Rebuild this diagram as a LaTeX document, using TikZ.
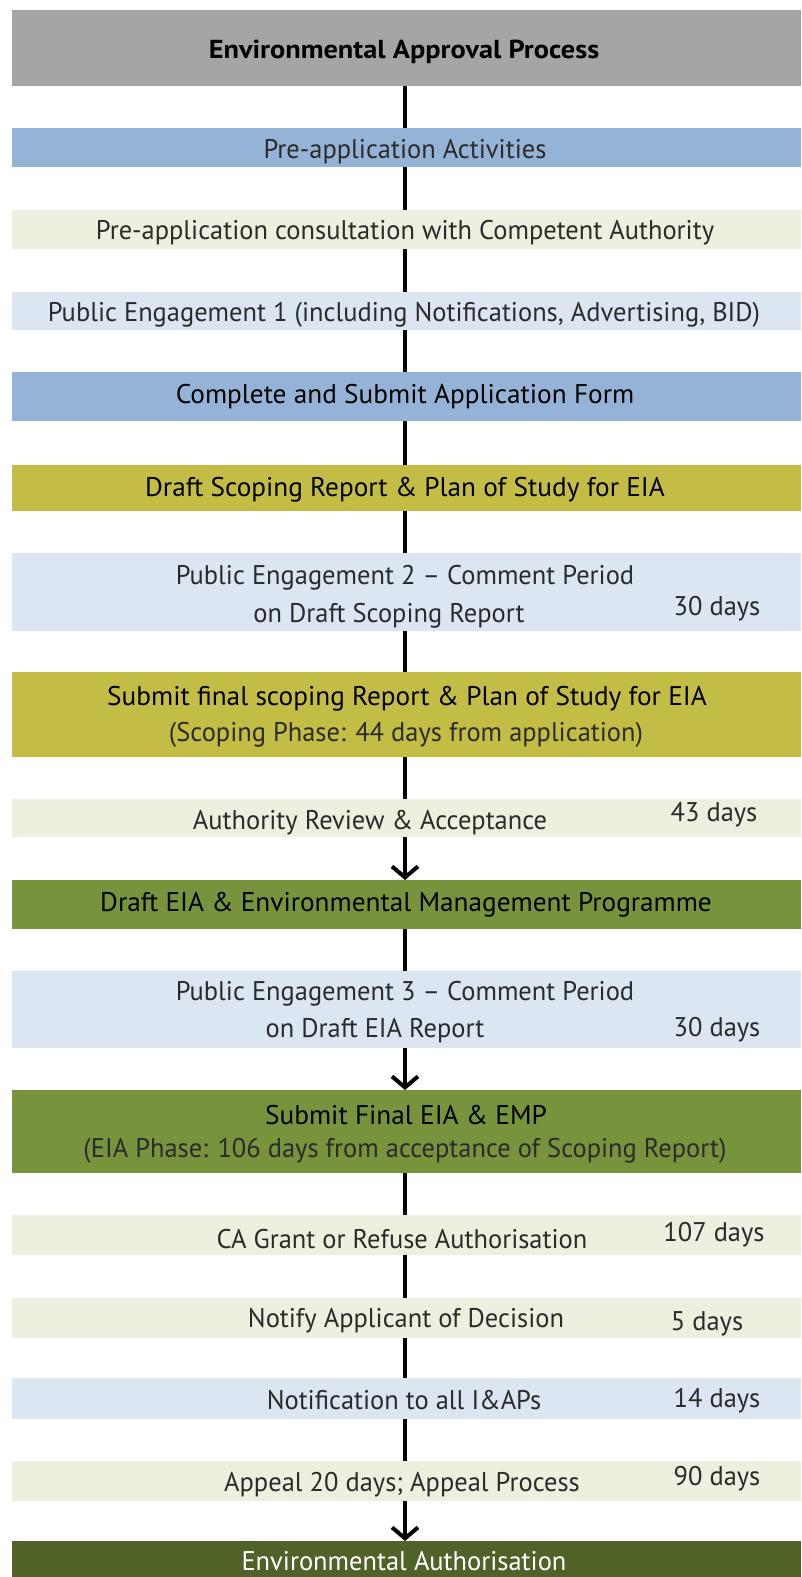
\documentclass[tikz,border=0pt]{standalone}
\usepackage{fontspec}
\setmainfont{PT Sans}[FakeStretch=0.98]
\newfontfamily\darkf{PT Sans}[FakeStretch=1.01]
\newfontfamily\titlef{PT Sans}[FakeStretch=1.09]
\usetikzlibrary{arrows.meta}
\definecolor{cgray}{HTML}{A5A5A5}
\definecolor{cblue}{HTML}{95B3D7}
\definecolor{clgreen}{HTML}{EBF1DE}
\definecolor{clblue}{HTML}{DCE6F2}
\definecolor{colive}{HTML}{C4BD45}
\definecolor{cgreen}{HTML}{77933C}
\definecolor{cdgreen}{HTML}{4F6228}
\definecolor{ctext}{HTML}{2B2B2B}
\tikzset{
  box/.style={draw=none, rectangle, minimum width=789pt, inner sep=0pt, outer sep=0pt},
  txt/.style={inner sep=0pt, font=\fontsize{27}{32}\selectfont, text=ctext},
  dtxt/.style={inner sep=0pt, font=\darkf\fontsize{27}{32}\selectfont, text=black},
  ttxt/.style={inner sep=0pt, font=\titlef\bfseries\fontsize{26}{31}\selectfont, text=black},
  days/.style={txt},
  conn/.style={line width=4pt, black},
  arr/.style={conn, -{Straight Barb[length=11pt, width=26pt]}},
}
\begin{document}
\begin{tikzpicture}[x=1pt, y=-1pt]
\useasboundingbox (0,0) rectangle (801,1577);
% boxes: center x = 406.5
\node[box, fill=cgray,   minimum height=76pt] (title)    at (406.5, 48) {};
\node[box, fill=cblue,   minimum height=39pt] (pre)      at (406.5, 147.5) {};
\node[box, fill=clgreen, minimum height=39pt] (consult)  at (406.5, 229.5) {};
\node[box, fill=clblue,  minimum height=38pt] (peone)    at (406.5, 311) {};
\node[box, fill=cblue,   minimum height=49pt] (apply)    at (406.5, 396.5) {};
\node[box, fill=colive,  minimum height=46pt] (draft)    at (406.5, 488) {};
\node[box, fill=clblue,  minimum height=78pt] (petwo)    at (406.5, 592) {};
\node[box, fill=colive,  minimum height=85pt] (submit)   at (406.5, 714.5) {};
\node[box, fill=clgreen, minimum height=38pt] (review)   at (406.5, 818) {};
\node[box, fill=cgreen,  minimum height=49pt] (drafteia) at (406.5, 904.5) {};
\node[box, fill=clblue,  minimum height=77pt] (pethree)  at (406.5, 1009.5) {};
\node[box, fill=cgreen,  minimum height=83pt] (final)    at (406.5, 1131.5) {};
\node[box, fill=clgreen, minimum height=40pt] (grant)    at (406.5, 1235) {};
\node[box, fill=clgreen, minimum height=40pt] (notify)   at (406.5, 1318) {};
\node[box, fill=clblue,  minimum height=41pt] (notif)    at (406.5, 1398.5) {};
\node[box, fill=clgreen, minimum height=40pt] (appeal)   at (406.5, 1481) {};
\node[box, fill=cdgreen, minimum height=36pt] (auth)     at (406.5, 1559) {};
% texts
\node[ttxt] (ttitle) at (404, 52) {Environmental Approval Process};
\node[txt] (tpre) at (405, 152) {Pre-application Activities};
\node[txt] (tconsult) at (405, 233) {Pre-application consultation with Competent Authority};
\node[txt] (tpeone) at (404, 314.5) {Public Engagement 1 (including Notifications, Advertising, BID)};
\node[dtxt] (tapply) at (405, 397) {Complete and Submit Application Form};
\node[dtxt] (tdraft) at (405, 490) {Draft Scoping Report \& Plan of Study for EIA};
\node[txt] (tpetwoa) at (405, 578) {Public Engagement 2 – Comment Period};
\node[txt] (tpetwob) at (389, 615.5) {on Draft Scoping Report};
\node[days] (dpetwo) at (717, 608.5) {30 days};
\node[dtxt] (tsubmita) at (407, 699) {Submit final scoping Report \& Plan of Study for EIA};
\node[txt] (tsubmitb) at (406, 735) {(Scoping Phase: 44 days from application)};
\node[txt] (treview) at (370, 823) {Authority Review \& Acceptance};
\node[days] (dreview) at (714, 815) {43 days};
\node[dtxt] (tdrafteia) at (406, 905) {Draft EIA \& Environmental Management Programme};
\node[txt] (tpethreea) at (405, 994) {Public Engagement 3 – Comment Period};
\node[txt] (tpethreeb) at (375, 1030.5) {on Draft EIA Report};
\node[days] (dpethree) at (717, 1029.5) {30 days};
\node[dtxt] (tfinala) at (406, 1115) {Submit Final EIA \& EMP};
\node[txt] (tfinalb) at (405, 1151) {(EIA Phase: 106 days from acceptance of Scoping Report)};
\node[txt] (tgrant) at (402, 1239) {CA Grant or Refuse Authorisation};
\node[days] (dgrant) at (714, 1235) {107 days};
\node[txt] (tnotify) at (406, 1320.5) {Notify Applicant of Decision};
\node[days] (dnotify) at (707, 1324) {5 days};
\node[txt] (tnotif) at (404, 1400.5) {Notification to all I\&APs};
\node[days] (dnotif) at (717, 1401) {14 days};
\node[txt] (tappeal) at (402, 1485) {Appeal 20 days; Appeal Process};
\node[days] (dappeal) at (717, 1479) {90 days};
\node[txt, text=white] (tauth) at (404, 1561) {Environmental Authorisation};
% connectors
\draw[conn] ([xshift=-1.5pt]title.south) -- ([xshift=-1.5pt]pre.north);
\draw[conn] ([xshift=-1.5pt]pre.south) -- ([xshift=-1.5pt]consult.north);
\draw[conn] ([xshift=-1.5pt]consult.south) -- ([xshift=-1.5pt]peone.north);
\draw[conn] ([xshift=-1.5pt]peone.south) -- ([xshift=-1.5pt]apply.north);
\draw[conn] ([xshift=-1.5pt]apply.south) -- ([xshift=-1.5pt]draft.north);
\draw[conn] ([xshift=-1.5pt]draft.south) -- ([xshift=-1.5pt]petwo.north);
\draw[conn] ([xshift=-1.5pt]petwo.south) -- ([xshift=-1.5pt]submit.north);
\draw[conn] ([xshift=-1.5pt]submit.south) -- ([xshift=-1.5pt]review.north);
\draw[arr]  ([xshift=-1.5pt]review.south) -- ([xshift=-1.5pt]drafteia.north);
\draw[conn] ([xshift=-1.5pt]drafteia.south) -- ([xshift=-1.5pt]pethree.north);
\draw[arr]  ([xshift=-1.5pt]pethree.south) -- ([xshift=-1.5pt]final.north);
\draw[conn] ([xshift=-1.5pt]final.south) -- ([xshift=-1.5pt]grant.north);
\draw[conn] ([xshift=-1.5pt]grant.south) -- ([xshift=-1.5pt]notify.north);
\draw[conn] ([xshift=-1.5pt]notify.south) -- ([xshift=-1.5pt]notif.north);
\draw[conn] ([xshift=-1.5pt]notif.south) -- ([xshift=-1.5pt]appeal.north);
\draw[arr]  ([xshift=-1.5pt]appeal.south) -- ([xshift=-1.5pt]auth.north);
\end{tikzpicture}
\end{document}
